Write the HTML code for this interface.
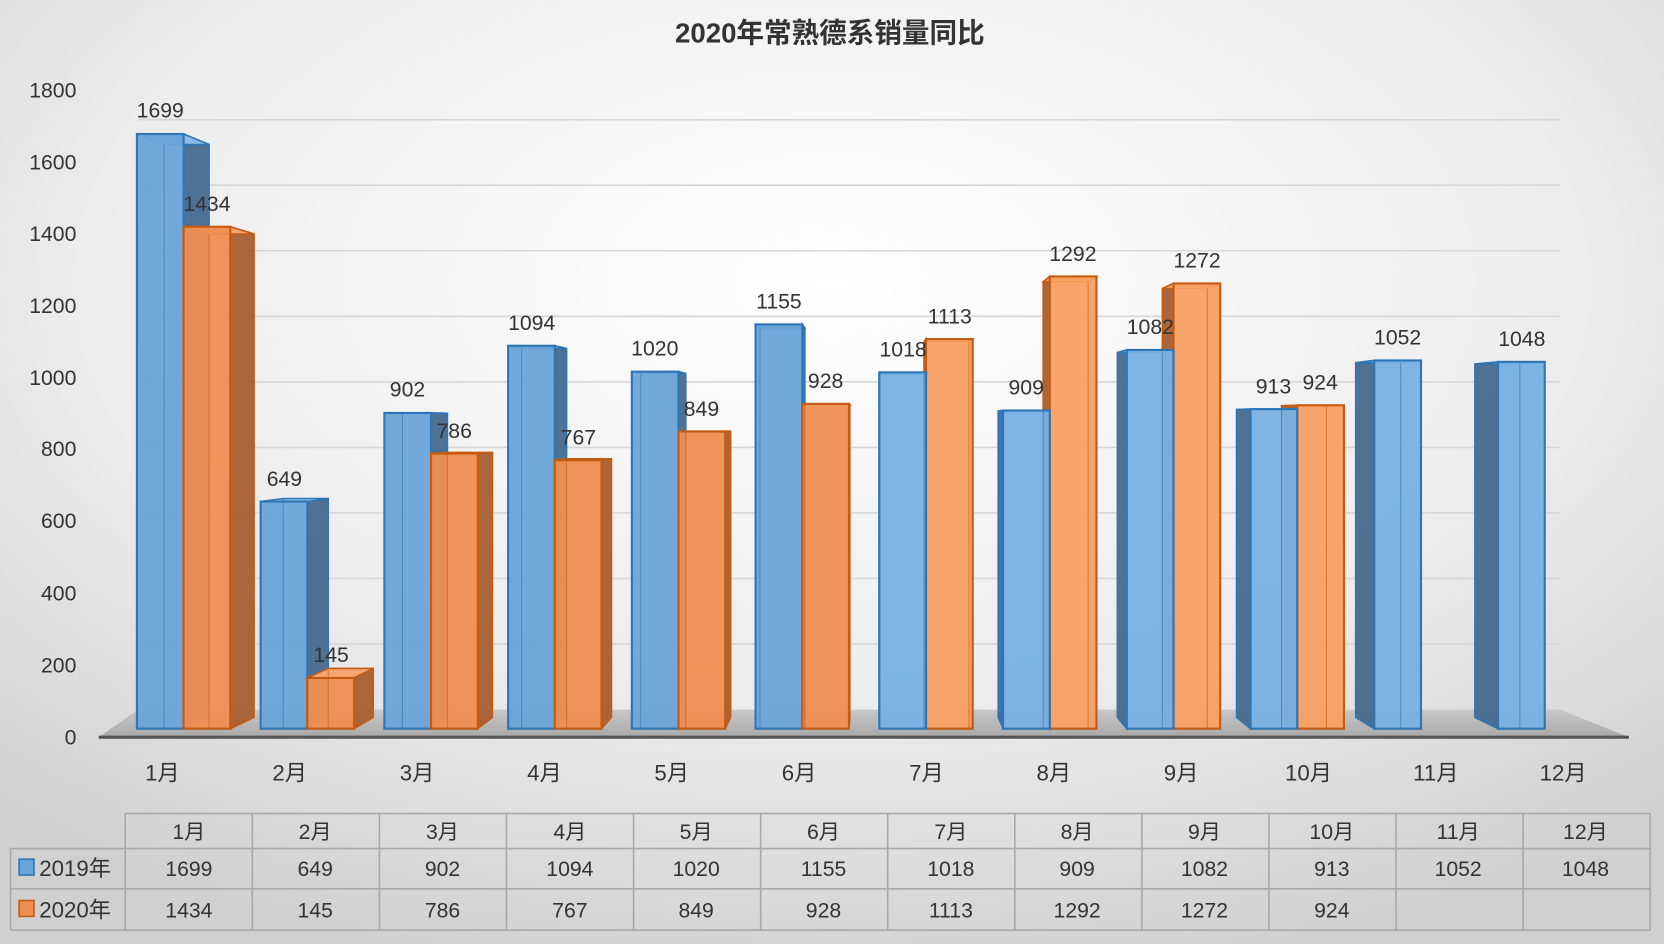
<!DOCTYPE html>
<html><head><meta charset="utf-8"><style>
html,body{margin:0;padding:0;width:1664px;height:944px;overflow:hidden;}
svg{display:block;}
text{font-family:"Liberation Sans","Noto Sans CJK SC",sans-serif;fill:#333;}
</style></head><body>
<svg id="s" width="1664" height="944" viewBox="0 0 1568 890" preserveAspectRatio="none" xmlns="http://www.w3.org/2000/svg">
<defs>
<radialGradient id="bg" cx="50%" cy="30%" r="75%">
<stop offset="0" stop-color="#ffffff"/><stop offset="0.6" stop-color="#ececec"/><stop offset="1" stop-color="#d0d0d0"/>
</radialGradient>
<linearGradient id="fl" x1="0" y1="0" x2="0" y2="1"><stop offset="0" stop-color="#c8c8c8"/><stop offset="1" stop-color="#a9a9a9"/></linearGradient>
</defs>
<rect width="1568" height="890" fill="url(#bg)"/>
<text x="782" y="40" text-anchor="middle" font-size="26" font-weight="bold" style="fill:#333">2020年常熟德系销量同比</text>
<g id="grid" stroke="#d6d6d6" stroke-width="1.5"></g>
<polygon points="93,695 1535,695 1470,669 130,669" fill="url(#fl)"/>
<line x1="93" y1="695" x2="1535" y2="695" stroke="#555" stroke-width="3"/>
<g id="bars"></g>
<g font-size="20" text-anchor="end">
<text x="72" y="702">0</text><text x="72" y="634">200</text><text x="72" y="566">400</text><text x="72" y="498">600</text><text x="72" y="430">800</text><text x="72" y="363">1000</text><text x="72" y="295">1200</text><text x="72" y="227">1400</text><text x="72" y="160">1600</text><text x="72" y="92">1800</text>
</g>
<g font-size="21" text-anchor="middle">
<text x="153" y="736">1月</text><text x="273" y="736">2月</text><text x="393" y="736">3月</text><text x="513" y="736">4月</text><text x="633" y="736">5月</text><text x="753" y="736">6月</text><text x="873" y="736">7月</text><text x="993" y="736">8月</text><text x="1113" y="736">9月</text><text x="1233" y="736">10月</text><text x="1353" y="736">11月</text><text x="1473" y="736">12月</text>
</g>
<g font-size="20" text-anchor="middle">
<text x="151" y="111">1699</text><text x="268" y="458">649</text><text x="384" y="374">902</text><text x="501" y="311">1094</text><text x="617" y="335">1020</text><text x="734" y="291">1155</text><text x="851" y="336">1018</text><text x="967" y="372">909</text><text x="1084" y="315">1082</text><text x="1200" y="371">913</text><text x="1317" y="325">1052</text><text x="1434" y="326">1048</text>
<text x="195" y="199">1434</text><text x="312" y="624">145</text><text x="428" y="413">786</text><text x="545" y="419">767</text><text x="661" y="392">849</text><text x="778" y="366">928</text><text x="895" y="305">1113</text><text x="1011" y="246">1292</text><text x="1128" y="252">1272</text><text x="1244" y="367">924</text>
</g>
<g id="tbl" stroke="#a8a8a8" stroke-width="1.5" fill="none"></g>
<rect x="18" y="810" width="14" height="15" fill="#6aa3d8" stroke="#2e75b6" stroke-width="1.5"/>
<rect x="18" y="849" width="14" height="15" fill="#ef8e52" stroke="#c55a11" stroke-width="1.5"/>
<g font-size="21">
<text x="37" y="826">2019年</text><text x="37" y="865">2020年</text>
</g>
<g font-size="20" text-anchor="middle">
<text x="178" y="791">1月</text><text x="297" y="791">2月</text><text x="417" y="791">3月</text><text x="537" y="791">4月</text><text x="656" y="791">5月</text><text x="776" y="791">6月</text><text x="896" y="791">7月</text><text x="1015" y="791">8月</text><text x="1135" y="791">9月</text><text x="1255" y="791">10月</text><text x="1374" y="791">11月</text><text x="1494" y="791">12月</text>
<text x="178" y="826">1699</text><text x="297" y="826">649</text><text x="417" y="826">902</text><text x="537" y="826">1094</text><text x="656" y="826">1020</text><text x="776" y="826">1155</text><text x="896" y="826">1018</text><text x="1015" y="826">909</text><text x="1135" y="826">1082</text><text x="1255" y="826">913</text><text x="1374" y="826">1052</text><text x="1494" y="826">1048</text>
<text x="178" y="865">1434</text><text x="297" y="865">145</text><text x="417" y="865">786</text><text x="537" y="865">767</text><text x="656" y="865">849</text><text x="776" y="865">928</text><text x="896" y="865">1113</text><text x="1015" y="865">1292</text><text x="1135" y="865">1272</text><text x="1255" y="865">924</text>
</g>
</svg>
<script>
var NS="http://www.w3.org/2000/svg";
function el(p,t,a){var e=document.createElementNS(NS,t);for(var k in a)e.setAttribute(k,a[k]);p.appendChild(e);return e;}
var g=document.getElementById("grid");
for(var j=1;j<=9;j++){var y=669-j*61.8;el(g,"line",{x1:130,y1:y,x2:1470,y2:y});}
var a=[1699,649,902,1094,1020,1155,1018,909,1082,913,1052,1048];
var b=[1434,145,786,767,849,928,1113,1292,1272,924,null,null];
var cx=822,cy=397,k=0.963,B=687,S=0.33;
function P(x,y){return [cx+(x-cx)*k,cy+(y-cy)*k];}
function pts(arr){return arr.map(function(p){return p[0].toFixed(1)+","+p[1].toFixed(1);}).join(" ");}
var bars=document.getElementById("bars");
function bar(x,v,blue,i){
 var w=44,top=B-v*S;
 var f=blue?"#6aa3d8":"#ef8e52", st=blue?"#2e75b6":"#c55a11", sd=blue?"#46698e":"#a85e30", tp=blue?"#8dbbe6":"#f4a672";
 if(!blue&&i>=6)f="#f7a062";
 if(blue&&i>=6)f="#78b0e3";
 var xl=x,xr=x+w;
 // side
 var sx=(i<6)?xr:xl;
 var bt=P(sx,top),bb=P(sx,B);
 el(bars,"polygon",{points:pts([[sx,top],bt,bb,[sx,B]]),fill:sd,stroke:st,"stroke-width":1.5,"fill-opacity":0.95});
 // top
 el(bars,"polygon",{points:pts([[xl,top],[xr,top],P(xr,top),P(xl,top)]),fill:tp,stroke:st,"stroke-width":1.5});
 // front
 el(bars,"rect",{x:xl,y:top,width:w,height:B-top,fill:f,stroke:st,"stroke-width":2,"fill-opacity":0.95});
 // inner back edge
 var o=P(i<6?xl:xr,top);
 el(bars,"line",{x1:o[0],y1:o[1],x2:o[0],y2:B,stroke:st,"stroke-width":1,"stroke-opacity":0.6});
}
for(var i=0;i<12;i++){
 var x=129+116.6*i;
 if(i<6){bar(x,a[i],true,i);if(b[i]!=null)bar(x+44,b[i],false,i);}
 else{if(b[i]!=null)bar(x+44,b[i],false,i);bar(x,a[i],true,i);}
}
var t=document.getElementById("tbl");
var x0=118,cw=(1555-118)/12;
el(t,"line",{x1:x0,y1:767,x2:1555,y2:767});
el(t,"line",{x1:10,y1:800,x2:1555,y2:800});
el(t,"line",{x1:10,y1:838,x2:1555,y2:838});
el(t,"line",{x1:10,y1:877,x2:1555,y2:877});
el(t,"line",{x1:10,y1:800,x2:10,y2:877});
for(var c=0;c<=12;c++){var xx=x0+c*cw;el(t,"line",{x1:xx,y1:767,x2:xx,y2:877});}
</script>
</body></html>
